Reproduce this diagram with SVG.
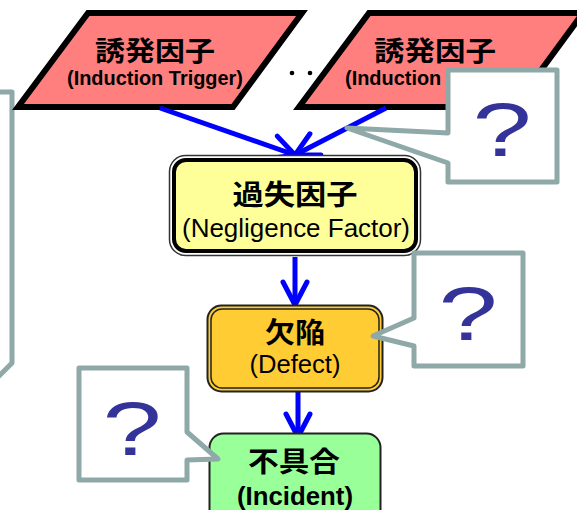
<svg xmlns="http://www.w3.org/2000/svg" width="577" height="510" viewBox="0 0 577 510">
  <style>
    .trig { fill: #FF7F7F; stroke: #000; stroke-width: 6; stroke-linejoin: miter; }
    .jp { font-family: "Liberation Sans", "Noto Sans CJK JP", sans-serif; font-weight: bold; fill: #000; text-anchor: middle; }
    .en { font-family: "Liberation Sans", "Noto Sans CJK JP", sans-serif; fill: #000; text-anchor: middle; }
    .b { font-weight: bold; }
    .flow { stroke: #0000FF; stroke-width: 5; fill: none; }
    .bubble { fill: #FFFFFF; stroke: #8FA8A8; stroke-width: 5; stroke-linejoin: round; }
    .q { font-family: "Liberation Sans", sans-serif; font-size: 76px; fill: #333399; text-anchor: middle; }
  </style>
  <defs>
    <marker id="chev" markerUnits="userSpaceOnUse" markerWidth="40" markerHeight="40" viewBox="-30 -20 40 40" refX="0" refY="0" orient="auto">
      <path d="M -23,-12 L 0,0 L -23,12" fill="none" stroke="#0000FF" stroke-width="5" stroke-linecap="round" stroke-linejoin="miter"/>
    </marker>
  </defs>

  <!-- partially visible comment bubble at the left edge -->
  <g id="bubble-left">
    <path class="bubble" d="M -20,92 H 12 V 363 L -6,381"/>
  </g>

  <!-- trigger inputs -->
  <g id="trigger-1">
    <polygon class="trig" points="88,13 302,13 233,107 18,107"/>
    <text class="jp" x="155" y="61" font-size="27" textLength="120" lengthAdjust="spacingAndGlyphs">誘発因子</text>
    <text class="en b" x="155" y="85" font-size="20" textLength="176" lengthAdjust="spacingAndGlyphs">(Induction Trigger)</text>
  </g>
  <g id="ellipsis">
    <circle cx="292" cy="73" r="2.3" fill="#000"/>
    <circle cx="310" cy="73" r="2.3" fill="#000"/>
  </g>
  <g id="trigger-2">
    <polygon class="trig" points="369,13 583,13 514,107 299,107"/>
    <text class="jp" x="435" y="61" font-size="27" textLength="122" lengthAdjust="spacingAndGlyphs">誘発因子</text>
    <text class="en b" x="345" y="85" font-size="20" style="text-anchor:start" textLength="176" lengthAdjust="spacingAndGlyphs">(Induction Trigger)</text>
  </g>

  <!-- connectors -->
  <g id="connectors">
    <line class="flow" x1="160" y1="108" x2="295" y2="155" marker-end="url(#chev)"/>
    <line class="flow" x1="386" y1="108" x2="295" y2="155" marker-end="url(#chev)"/>
    <line class="flow" x1="295" y1="257" x2="295" y2="305" marker-end="url(#chev)"/>
    <line class="flow" x1="298" y1="392" x2="298" y2="437" marker-end="url(#chev)"/>
  </g>

  <!-- negligence factor -->
  <g id="negligence">
    <rect x="169.5" y="155.5" width="251" height="100" rx="16" fill="#FFFFFF" stroke="#333" stroke-width="1.5"/>
    <rect x="174" y="160" width="242" height="91" rx="12" fill="#FFFF99" stroke="#000" stroke-width="4"/>
    <text class="jp" x="295" y="205" font-size="28" textLength="125" lengthAdjust="spacingAndGlyphs">過失因子</text>
    <text class="en" x="296" y="237" font-size="26" textLength="228" lengthAdjust="spacingAndGlyphs">(Negligence Factor)</text>
  </g>

  <!-- defect -->
  <g id="defect">
    <rect x="207.5" y="305.5" width="175" height="86" rx="14" fill="#FFCC33" stroke="#222" stroke-width="2"/>
    <rect x="211" y="309" width="168" height="79" rx="11" fill="#FFCC33" stroke="#222" stroke-width="1.5"/>
    <text class="jp" x="295" y="343" font-size="28" textLength="60" lengthAdjust="spacingAndGlyphs">欠陥</text>
    <text class="en" x="295" y="373" font-size="26" textLength="91" lengthAdjust="spacingAndGlyphs">(Defect)</text>
  </g>

  <!-- incident -->
  <g id="incident">
    <rect x="209.5" y="433.5" width="171" height="90" rx="14" fill="#99FF99" stroke="#222" stroke-width="2"/>
    <text class="jp" x="294" y="472" font-size="28" textLength="92" lengthAdjust="spacingAndGlyphs">不具合</text>
    <text class="en b" x="295" y="505" font-size="25" textLength="116" lengthAdjust="spacingAndGlyphs">(Incident)</text>
  </g>

  <!-- question bubbles -->
  <g id="bubble-trigger">
    <path class="bubble" d="M 448,70 H 557 V 182 H 448 V 163 L 347,128 L 448,133 Z"/>
    <text class="q" transform="translate(502,156) scale(1.4,1)">?</text>
  </g>
  <g id="bubble-defect">
    <path class="bubble" d="M 414,253 H 523 V 366 H 414 V 346 L 373,336 L 414,318 Z"/>
    <text class="q" transform="translate(468,340) scale(1.4,1)">?</text>
  </g>
  <g id="bubble-incident">
    <path class="bubble" d="M 79,368 H 187 V 432 L 218,459 L 187,460 V 480 H 79 Z"/>
    <text class="q" transform="translate(132,455) scale(1.4,1)">?</text>
  </g>
</svg>
